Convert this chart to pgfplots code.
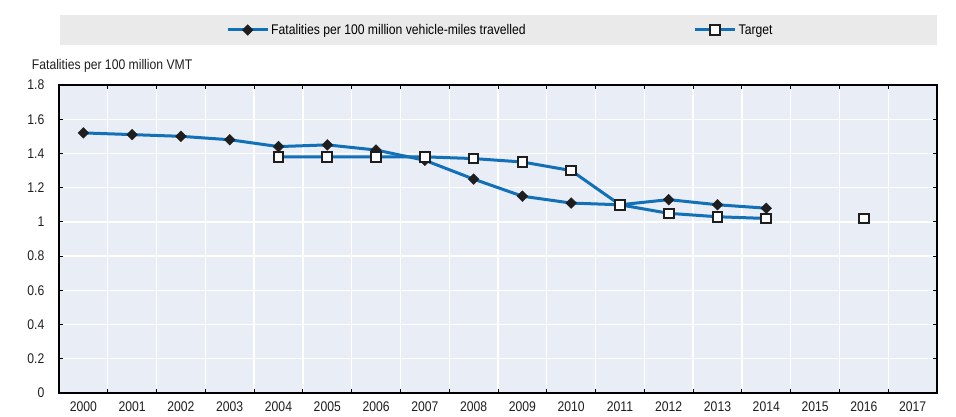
\documentclass[border=0pt]{standalone}
\usepackage{fontspec}
\setmainfont{Liberation Sans}[FakeStretch=0.87]
\usepackage{pgfplots}
\pgfplotsset{compat=1.18}
\definecolor{lineblue}{RGB}{17,112,184}
\definecolor{plotbg}{RGB}{233,237,246}
\definecolor{leggray}{RGB}{234,234,234}
\definecolor{mk}{RGB}{30,30,30}
\begin{document}
\begin{tikzpicture}[x=1pt,y=1pt]
\path[use as bounding box] (-59,-24) rectangle (897,393);
\fill[leggray] (1,348) rectangle (878,378);
\begin{axis}[
  scale only axis, width=878pt, height=308pt,
  at={(0,0)}, anchor=south west,
  xmin=-0.5, xmax=17.5, ymin=0, ymax=1.8,
  clip=false,
  axis background/.style={fill=plotbg},
  axis line style={draw=black, line width=1.8pt},
  xtick={0,1,2,3,4,5,6,7,8,9,10,11,12,13,14,15,16,17},
  xticklabels={2000,2001,2002,2003,2004,2005,2006,2007,2008,2009,2010,2011,2012,2013,2014,2015,2016,2017},
  minor xtick={0.5,1.5,2.5,3.5,4.5,5.5,6.5,7.5,8.5,9.5,10.5,11.5,12.5,13.5,14.5,15.5,16.5},
  ytick={0,0.2,0.4,0.6,0.8,1,1.2,1.4,1.6,1.8},
  yticklabels={0,0.2,0.4,0.6,0.8,1,1.2,1.4,1.6,1.8},
  xminorgrids=true, ymajorgrids=true,
  major grid style={white, line width=1.3pt},
  minor grid style={white, line width=1.3pt},
  major x tick style={draw=none},
  tick style={black, line width=0.9pt},
  major tick length=4pt, minor tick length=4pt,
  tick label style={font=\fontsize{14}{16}\selectfont, text=black!88},
  yticklabel style={anchor=east, inner sep=0pt, xshift=-14.5pt},
  xticklabel style={anchor=north, inner sep=0pt, yshift=-9pt},
  legend columns=2,
  legend style={at={(167/878,363/308)}, anchor=west, draw=none, fill=none,
    inner sep=0pt, font=\fontsize{14}{16}\selectfont,
    /tikz/every even column/.append style={column sep=166pt}},
  legend image code/.code={\draw[mark repeat=2,mark phase=2,#1] plot coordinates {(0pt,0pt) (20pt,0pt) (40pt,0pt)};},
  unbounded coords=jump,
]
\addplot[lineblue, line width=3pt, mark=square*, mark size=3.8pt,
  mark options={rotate=45, fill=mk, draw=mk, line width=0.4pt, solid}]
  coordinates {(0,1.52) (1,1.51) (2,1.50) (3,1.48) (4,1.44) (5,1.45) (6,1.42) (7,1.36) (8,1.25) (9,1.15) (10,1.11) (11,1.10) (12,1.13) (13,1.10) (14,1.08)};
\addlegendentry{Fatalities per 100 million vehicle-miles travelled}
\addplot[lineblue, line width=3pt, mark=square*, mark size=4.8pt,
  mark options={fill=white, draw=mk, line width=2pt, solid}]
  coordinates {(4,1.38) (5,1.38) (6,1.38) (7,1.38) (8,1.37) (9,1.35) (10,1.30) (11,1.10) (12,1.05) (13,1.03) (14,1.02) (15,nan) (16,1.02)};
\addlegendentry{Target}
\end{axis}
\node[anchor=base west, inner sep=0pt, font=\fontsize{14}{16}\selectfont, text=black!88] at (-27.3,323) {Fatalities per 100 million VMT};
\end{tikzpicture}
\end{document}
